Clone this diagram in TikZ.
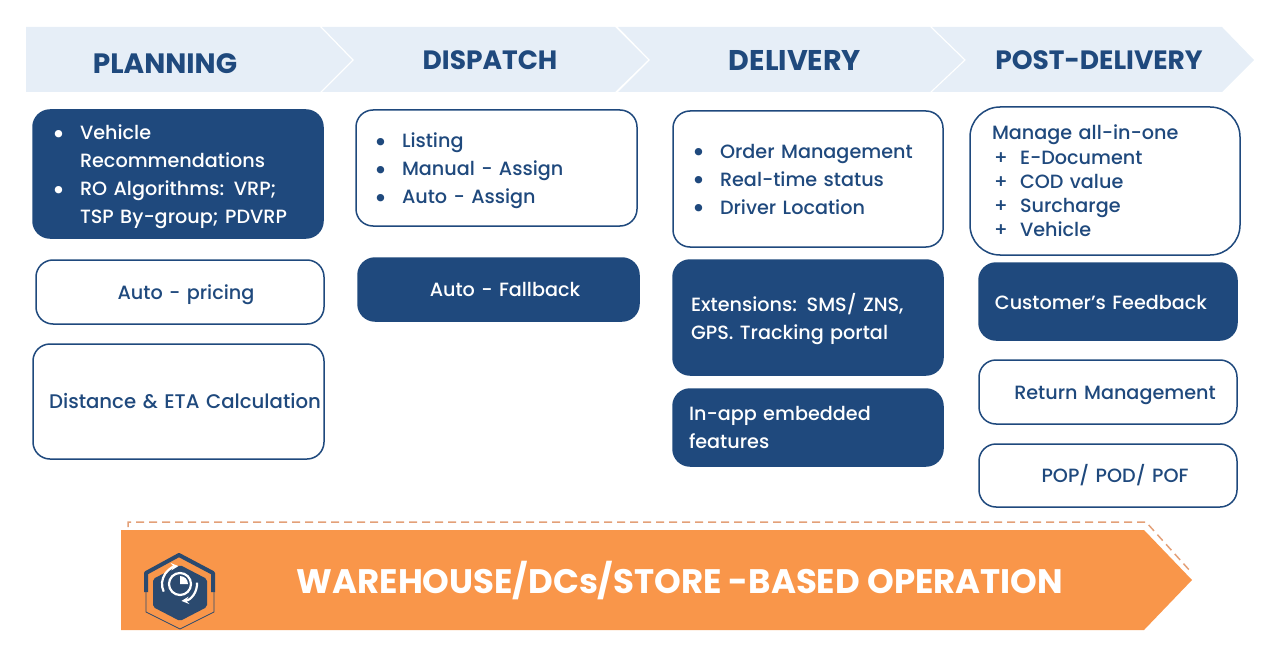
\documentclass[tikz,border=0pt]{standalone}
\usepackage{fontspec}
\setmainfont{Poppins}[UprightFont=* Medium, BoldFont=* Bold]
\usetikzlibrary{positioning}
\definecolor{navy}{HTML}{1F497D}
\definecolor{palesky}{HTML}{E6EEF7}
\definecolor{amber}{HTML}{F9964A}
\definecolor{dashamber}{HTML}{E3A078}
\definecolor{logonavy}{HTML}{2B4A6F}
\newcommand{\itemline}[1]{\makebox[21pt][l]{\hspace*{-7pt}\raisebox{-3.8pt}{\fontsize{28}{28}\selectfont•}}#1}
\newcommand{\plusline}[1]{\hspace*{2pt}\makebox[26pt][l]{+}#1}
\newcommand{\itemgap}{\hspace*{21pt}}
\newcommand{\dropby}[1]{\rule{0pt}{#1}}
\tikzset{
        treebox/.style={align=left,inner ysep=0pt,outer sep=0pt,rounded corners=17pt,line width=1.5pt,font=\fontsize{19.2}{28}\selectfont},
        % Filled boxes
        box_dark/.style={treebox, draw=navy, fill=navy, text=white},
        % Outlined boxes
        box_light/.style={treebox, draw=navy, fill=white, text=navy},
        % Centred one-liners
        one_line/.style={align=center, inner xsep=0pt},
        % Phase chevrons
        phase/.style={fill=palesky},
        % Phase titles
        phase_title/.style={text=navy, font=\fontsize{26.5}{28}\selectfont\bfseries, inner sep=0pt}
}
\begin{document}
\begin{tikzpicture}[x=1pt,y=-1pt]
    \useasboundingbox (0,0) rectangle (1271,666);
    % Phase chevrons
    \fill[phase] (26,27) -- (320,27) -- (352,60) -- (320,92) -- (26,92) -- cycle;
    \fill[phase] (322,27) -- (615,27) -- (648,60) -- (615,92) -- (322,92) -- (354,60) -- cycle;
    \fill[phase] (618,27) -- (930,27) -- (964,60) -- (930,92) -- (618,92) -- (650,60) -- cycle;
    \fill[phase] (932,27) -- (1222,27) -- (1254,60) -- (1222,92) -- (932,92) -- (966,60) -- cycle;
    \node[phase_title, font=\fontsize{28}{28}\selectfont\bfseries] (planning) at (165,64) {PLANNING};
    \node[phase_title] (dispatch) at (490,60) {DISPATCH};
    \node[phase_title, font=\fontsize{28.5}{28}\selectfont\bfseries] (delivery) at (795,60) {DELIVERY};
    \node[phase_title] (post) at (1099,60) {POST-DELIVERY};
    % Planning column
    \node[box_dark, inner xsep=26pt, text width=238pt, minimum height=128pt] (vehicle) at (178,174) {
        \dropby{20pt}\itemline{Vehicle}\\ \itemgap Recommendations\\ \itemline{RO Algorithms: VRP;}\\ \itemgap TSP By-group; PDVRP};
    \node[box_light, one_line, text width=288pt, minimum height=64pt] (pricing) at (180,292) {\dropby{20pt}\hspace*{12pt}Auto - pricing};
    \node[box_light, one_line, text width=291pt, minimum height=115pt, font=\fontsize{19.7}{28}\selectfont] (distance) at (178.5,401.5) {\hspace*{13pt}Distance \& ETA Calculation};
    % Dispatch column
    \node[box_light, inner xsep=25pt, text width=231pt, minimum height=116pt] (listing) at (496.5,168) {
        \dropby{20pt}\itemline{Listing}\\ \itemline{Manual - Assign}\\ \itemline{Auto - Assign}};
    \node[box_dark, one_line, text width=281pt, minimum height=63pt] (fallback) at (498.5,289.5) {\hspace*{13pt}Auto - Fallback};
    % Delivery column
    \node[box_light, inner xsep=26pt, text width=218pt, minimum height=136pt] (orders) at (808,179) {
        \dropby{18pt}\itemline{Order Management}\\ \itemline{Real-time status}\\ \itemline{Driver Location}};
    \node[box_dark, inner xsep=18pt, text width=234pt, minimum height=115pt] (extensions) at (808,317.5) {
        \dropby{22pt}Extensions: SMS/ ZNS,\\ GPS. Tracking portal};
    \node[box_dark, inner xsep=16pt, text width=238pt, minimum height=77pt] (inapp) at (808,427.5) {
        In-app embedded\\ features};
    % Post-delivery column
    \node[box_light, rounded corners=30pt, inner xsep=22pt, text width=226pt, minimum height=148pt,
        font=\fontsize{19.2}{24.3}\selectfont] (manage) at (1105,181) {
        Manage all-in-one\\ \plusline{E-Document}\\ \plusline{COD value}\\ \plusline{Surcharge}\\ \plusline{Vehicle}};
    \node[box_dark, one_line, text width=258pt, minimum height=77pt] (feedback) at (1108,301.5) {\dropby{16pt}Customer's Feedback\hspace*{14pt}};
    \node[box_light, one_line, text width=258pt, minimum height=64pt] (returns) at (1108,392) {\dropby{20pt}\hspace*{14pt}Return Management};
    \node[box_light, one_line, text width=258pt, minimum height=63pt] (proofs) at (1108,475.5) {\hspace*{14pt}POP/ POD/ POF};
    % Base arrow
    \fill[amber] (121,530) -- (1144,530) -- (1192,580) -- (1144,630) -- (121,630) -- cycle;
    \draw[dashamber, line width=1.5pt, dash pattern=on 8pt off 5pt] (128,527) -- (128,522) -- (1146,522) -- (1191,572);
    \node[text=white, inner sep=0pt, font=\fontsize{34}{34}\selectfont\bfseries] (base) at (680,581) {WAREHOUSE/DCs/STORE -BASED OPERATION};
    % Logo
    \draw[logonavy, line width=0.8pt] (146,592) -- (146,612) -- (180,629) -- (214,612) -- (214,592);
    \draw[logonavy, line width=4pt, line join=round] (146,592) -- (146,573) -- (179,555) -- (213,573) -- (213,592);
    \fill[logonavy, rounded corners=2pt] (180,565) -- (207,579) -- (207,607) -- (180,621) -- (153,607) -- (153,579) -- cycle;
    \begin{scope}[shift={(180,584)},y=1pt]
        \draw[white, line width=2.2pt] (0,0) circle (11pt);
        \fill[white] (0,0) -- (0,8) arc[start angle=90, end angle=0, radius=8pt] -- cycle;
        \draw[white, line width=2.2pt, -stealth] (205:18pt) arc[start angle=205, end angle=95, radius=18pt];
        \draw[white, line width=2.2pt, -stealth] (5:17pt) arc[start angle=5, end angle=-85, radius=17pt];
    \end{scope}
\end{tikzpicture}
\end{document}
